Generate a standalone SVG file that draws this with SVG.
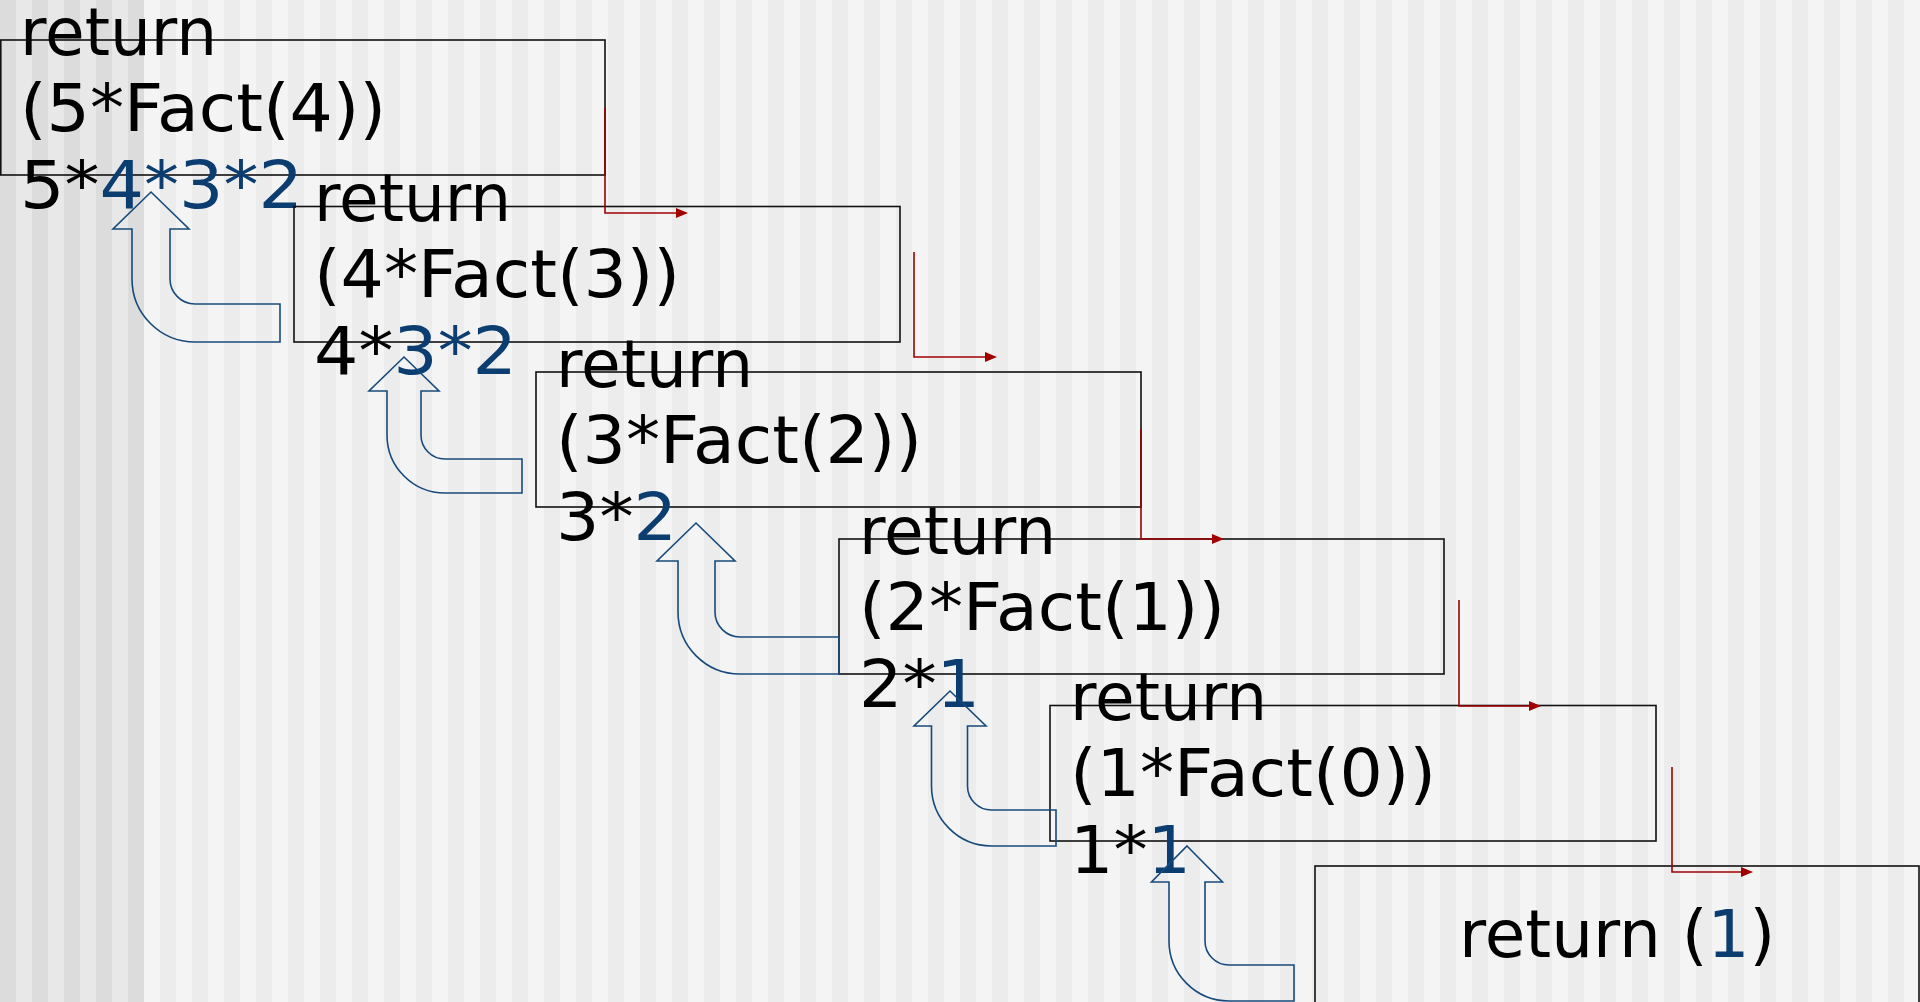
<svg xmlns="http://www.w3.org/2000/svg" width="1920" height="1002" viewBox="0 0 1920 1002">
<defs>
<pattern id="stripeLight" x="0" y="0" width="32" height="32" patternUnits="userSpaceOnUse">
<rect x="0" y="0" width="16" height="32" fill="#ececec"/>
<rect x="16" y="0" width="16" height="32" fill="#f4f4f4"/>
</pattern>
<pattern id="stripeDark" x="0" y="0" width="32" height="32" patternUnits="userSpaceOnUse">
<rect x="0" y="0" width="16" height="32" fill="#dcdcdc"/>
<rect x="16" y="0" width="16" height="32" fill="#e8e8e8"/>
</pattern>
<marker id="redHead" markerUnits="userSpaceOnUse" markerWidth="12" markerHeight="10" viewBox="0 0 12 10" refX="4" refY="5" orient="auto">
<path d="M0,0 L12,5 L0,10 Z" fill="#a00000"/>
</marker>
<style>
.box{fill:none;stroke:#111;stroke-width:1.6}
.t{font-family:"DejaVu Sans","Verdana",sans-serif;font-size:66px;fill:#000}
.b{fill:#0b3d70}
.call{fill:none;stroke:#a00000;stroke-width:1.6;marker-end:url(#redHead)}
.ret{fill:none;stroke:#174a7c;stroke-width:1.6;stroke-linejoin:miter}
</style>
</defs>
<rect x="0" y="0" width="1920" height="1002" fill="url(#stripeLight)"/>
<rect x="0" y="0" width="144" height="1002" fill="url(#stripeDark)"/>

<g id="fact5">
<rect class="box" x="0.8" y="40" width="604.2" height="135"/>
<text class="t" x="20" y="54.5" textLength="197" lengthAdjust="spacingAndGlyphs">return</text>
<text class="t" x="20" y="131" textLength="366" lengthAdjust="spacingAndGlyphs">(5*Fact(4))</text>
<text class="t" x="20" y="207.5" textLength="283" lengthAdjust="spacingAndGlyphs">5*<tspan class="b">4*3*2</tspan></text>
</g>
<g id="fact4">
<rect class="box" x="294" y="206.5" width="606" height="135.5"/>
<text class="t" x="314" y="220.5" textLength="197" lengthAdjust="spacingAndGlyphs">return</text>
<text class="t" x="314" y="297" textLength="366" lengthAdjust="spacingAndGlyphs">(4*Fact(3))</text>
<text class="t" x="314" y="373.5" textLength="203" lengthAdjust="spacingAndGlyphs">4*<tspan class="b">3*2</tspan></text>
</g>
<g id="fact3">
<rect class="box" x="536" y="372" width="605" height="135"/>
<text class="t" x="556" y="386.5" textLength="197" lengthAdjust="spacingAndGlyphs">return</text>
<text class="t" x="556" y="463" textLength="366" lengthAdjust="spacingAndGlyphs">(3*Fact(2))</text>
<text class="t" x="556" y="539.5" textLength="121" lengthAdjust="spacingAndGlyphs">3*<tspan class="b">2</tspan></text>
</g>
<g id="fact2">
<rect class="box" x="839" y="539" width="605" height="135"/>
<text class="t" x="859" y="553.5" textLength="197" lengthAdjust="spacingAndGlyphs">return</text>
<text class="t" x="859" y="630" textLength="366" lengthAdjust="spacingAndGlyphs">(2*Fact(1))</text>
<text class="t" x="859" y="706.5" textLength="121" lengthAdjust="spacingAndGlyphs">2*<tspan class="b">1</tspan></text>
</g>
<g id="fact1">
<rect class="box" x="1050" y="705.5" width="606" height="135.5"/>
<text class="t" x="1070" y="719.5" textLength="197" lengthAdjust="spacingAndGlyphs">return</text>
<text class="t" x="1070" y="796" textLength="366" lengthAdjust="spacingAndGlyphs">(1*Fact(0))</text>
<text class="t" x="1070" y="872.5" textLength="121" lengthAdjust="spacingAndGlyphs">1*<tspan class="b">1</tspan></text>
</g>
<g id="fact0">
<rect class="box" x="1315" y="866" width="604" height="150"/>
<text class="t" x="1459" y="957">return (<tspan class="b">1</tspan>)</text>
</g>

<g id="connectors">
<g id="calls">
<path class="call" d="M605,108 V213 H680"/>
<path class="call" d="M914,252 V357 H989"/>
<path class="call" d="M1141,429 V539 H1216"/>
<path class="call" d="M1459,600 V706 H1533"/>
<path class="call" d="M1672,767 V872 H1745"/>
</g>
<g id="returns">
<path class="ret" d="M151,192 L189,229 L170,229 L170,279 A25,25 0 0 0 195,304 L280,304 L280,342 L195,342 A63,63 0 0 1 132,279 L132,229 L113,229 Z"/>
<path class="ret" d="M404,357 L439,391 L421,391 L421,435 A24,24 0 0 0 445,459 L522,459 L522,493 L445,493 A58,58 0 0 1 387,435 L387,391 L369,391 Z"/>
<path class="ret" d="M696,523 L735,561 L715,561 L715,612 A25,25 0 0 0 740,637 L839,637 L839,674 L740,674 A62,62 0 0 1 678,612 L678,561 L657,561 Z"/>
<path class="ret" d="M950,691 L986,726 L967.5,726 L967.5,786 A24,24 0 0 0 991.5,810 L1056,810 L1056,846 L991.5,846 A60,60 0 0 1 931.5,786 L931.5,726 L914,726 Z"/>
<path class="ret" d="M1187,846 L1222.5,882 L1205,882 L1205,941 A24,24 0 0 0 1229,965 L1294,965 L1294,1001 L1229,1001 A60,60 0 0 1 1169,941 L1169,882 L1151.5,882 Z"/>
</g>
</g>
</svg>
